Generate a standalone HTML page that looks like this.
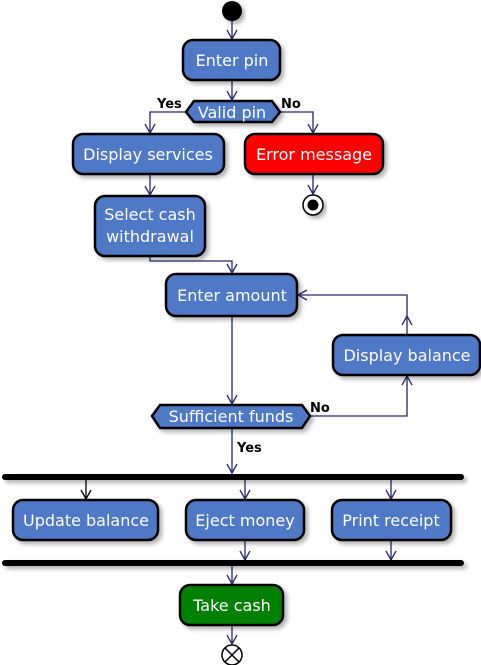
<!DOCTYPE html>
<html><head><style>html,body{margin:0;padding:0;background:#fff}svg{display:block}</style></head><body>
<svg width="481" height="665" viewBox="0 0 481 665" xmlns="http://www.w3.org/2000/svg" font-family="'DejaVu Sans','Liberation Sans',sans-serif">
<defs>
<filter id="sh" x="-10%" y="-10%" width="130%" height="140%"><feDropShadow dx="3" dy="3" stdDeviation="2" flood-color="#000" flood-opacity="0.3"/></filter>
</defs>
<g stroke="#27276e" stroke-width="1.3" fill="none">
<line x1="232" y1="21" x2="232" y2="39"/><path d="M227,30 L232,39 L237,30" />
<line x1="232" y1="80" x2="232" y2="100"/><path d="M227,91 L232,100 L237,91"/>
<path d="M186,112 H150 V133"/><path d="M145,124 L150,133 L155,124"/>
<path d="M280,112 H313 V133"/><path d="M308,124 L313,133 L318,124"/>
<line x1="313" y1="174" x2="313" y2="194"/><path d="M308,185 L313,194 L318,185"/>
<line x1="150" y1="174" x2="150" y2="195"/><path d="M145,186 L150,195 L155,186"/>
<path d="M150,256 V261 H232 V273"/><path d="M227,264 L232,273 L237,264"/>
<line x1="232" y1="316" x2="232" y2="404"/><path d="M227,395 L232,404 L237,395"/>
<path d="M310,416 H407 V376"/><path d="M402,385 L407,376 L412,385"/>
<path d="M407,335 V295 H298"/><path d="M402,325 L407,316 L412,325"/><path d="M307,290 L298,295 L307,300"/>
<line x1="232" y1="428" x2="232" y2="473"/><path d="M227,464 L232,473 L237,464"/>
<line x1="245" y1="479" x2="245" y2="499"/><path d="M240,490 L245,499 L250,490"/>
<line x1="391" y1="479" x2="391" y2="499"/><path d="M386,490 L391,499 L396,490"/>
<line x1="245" y1="540" x2="245" y2="560"/><path d="M240,551 L245,560 L250,551"/>
<line x1="391" y1="540" x2="391" y2="560"/><path d="M386,551 L391,560 L396,551"/>
<line x1="232" y1="565" x2="232" y2="584"/><path d="M227,575 L232,584 L237,575"/>
<line x1="232" y1="625" x2="232" y2="644"/><path d="M227,635 L232,644 L237,635"/>
</g>
<g stroke="#000" stroke-width="1.3" fill="none">
<line x1="86" y1="479" x2="86" y2="499"/><path d="M81,490 L86,499 L91,490"/>
</g>
<circle cx="232" cy="11" r="10" fill="#000" filter="url(#sh)"/>
<g stroke="#000" stroke-width="2.5" fill="#5078c6" filter="url(#sh)">
<rect x="183" y="40" width="97" height="40" rx="10"/>
<polygon points="186,112 194,101 272,101 280,112 272,122 194,122"/>
<rect x="73" y="134" width="151" height="40" rx="10"/>
<rect x="245" y="134" width="138" height="40" rx="10" fill="#ff0000"/>
<rect x="95" y="196" width="110" height="60" rx="10"/>
<rect x="166" y="274" width="131" height="42" rx="10"/>
<rect x="333" y="335" width="147" height="40" rx="10"/>
<polygon points="152,416 160,405 302,405 310,416 302,428 160,428"/>
<rect x="13" y="500" width="145" height="40" rx="10"/>
<rect x="186" y="500" width="118" height="40" rx="10"/>
<rect x="332" y="500" width="119" height="40" rx="10"/>
<rect x="180" y="585" width="103" height="40" rx="10" fill="#008000"/>
</g>
<g fill="#000" filter="url(#sh)">
<rect x="2" y="474" width="462" height="6" rx="3"/>
<rect x="2" y="560" width="462" height="6" rx="3"/>
</g>
<circle cx="313" cy="205" r="10" fill="#fff" stroke="#000" stroke-width="1.5" filter="url(#sh)"/>
<circle cx="313" cy="205" r="5.5" fill="#000"/>
<circle cx="232" cy="655" r="10" fill="#fff" stroke="#000" stroke-width="1.5"/>
<path d="M225,648 L239,662 M239,648 L225,662" stroke="#000" stroke-width="1.5"/>
<g fill="#fff" font-size="16" text-anchor="middle">
<text x="232" y="66">Enter pin</text>
<text x="232" y="118">Valid pin</text>
<text x="148" y="160">Display services</text>
<text x="314" y="160">Error message</text>
<text x="150" y="220">Select cash</text>
<text x="150" y="242">withdrawal</text>
<text x="232" y="301">Enter amount</text>
<text x="407" y="361">Display balance</text>
<text x="231" y="422">Sufficient funds</text>
<text x="86" y="526">Update balance</text>
<text x="245" y="526">Eject money</text>
<text x="391" y="526">Print receipt</text>
<text x="232" y="611">Take cash</text>
</g>
<g fill="#000" font-size="13" font-weight="bold">
<text x="157" y="108">Yes</text>
<text x="281" y="108">No</text>
<text x="310" y="412">No</text>
<text x="237" y="452">Yes</text>
</g>
</svg>
</body></html>
